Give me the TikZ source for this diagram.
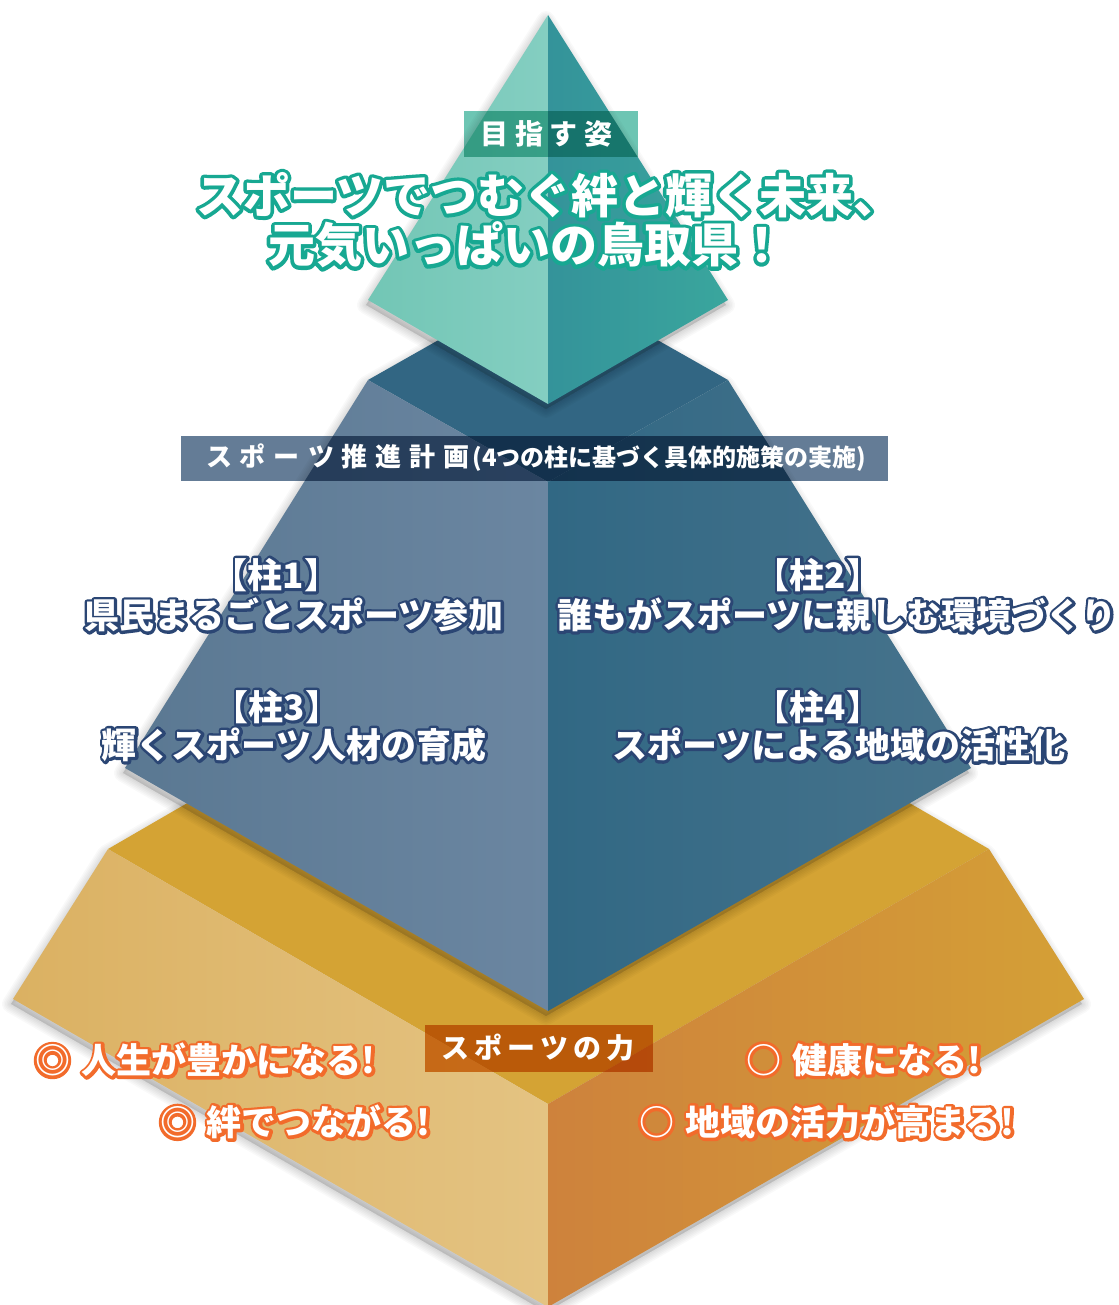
\documentclass[tikz,border=0pt]{standalone}
\usepackage{fontspec}
\newfontfamily\jp{Noto Sans CJK JP}
\usetikzlibrary{calc}
\definecolor{tealL1}{HTML}{72C6B5}
\definecolor{tealL2}{HTML}{84CEC1}
\definecolor{tealR1}{HTML}{34939A}
\definecolor{tealR2}{HTML}{3AA69D}
\definecolor{blueTop}{HTML}{326683}
\definecolor{blueL1}{HTML}{5A7892}
\definecolor{blueL2}{HTML}{6B86A1}
\definecolor{blueR1}{HTML}{316884}
\definecolor{blueR2}{HTML}{47738C}
\definecolor{goldTop}{HTML}{D4A334}
\definecolor{goldL1}{HTML}{DBB162}
\definecolor{goldL2}{HTML}{E4C382}
\definecolor{goldR1}{HTML}{CE823C}
\definecolor{goldR2}{HTML}{D4A036}
\definecolor{barA}{HTML}{6DC5B3}
\definecolor{barB}{HTML}{647C96}
\definecolor{barC}{HTML}{E08D31}
\definecolor{tealOut}{HTML}{17A892}
\definecolor{navyOut}{HTML}{2B4674}
\definecolor{orangeOut}{HTML}{F26B2B}
% outlined text: a stroked copy (text render mode 1) under the filled text
\newcommand\outl[3]{%
  \leavevmode\rlap{\color{#1}\special{pdf:literal direct 1 Tr #2 w 1 j 1 J}#3\special{pdf:literal direct 0 Tr}}#3}
\newcommand\softshadow[1]{%
  \foreach \sw in {3,6,9,12,15,18}{%
    \filldraw[black,opacity=0.024,line width=\sw*0.75pt,line join=round,shift={(-2,5)}] #1;}}
\begin{document}
\begin{tikzpicture}[x=0.75pt,y=-0.75pt,
  every node/.style={inner sep=0pt,outer sep=0pt},
  title/.style={anchor=west,text=white,font=\jp\bfseries\fontsize{35.25}{40}\selectfont},
  pillar/.style={text=white,font=\jp\bfseries\fontsize{26.25}{30}\selectfont},
  power/.style={anchor=west,text=white,font=\jp\bfseries\fontsize{26.25}{30}\selectfont},
  bartext/.style={text=white,font=\jp\bfseries\fontsize{21}{24}\selectfont}]
\fill[white] (0,0) rectangle (1118,1305);
\useasboundingbox (0,0) rectangle (1118,1305);
% ---- gold layer
\softshadow{(13,999) -- (108,849) -- (548,594) -- (989,849) -- (1084,999) -- (548,1307) -- cycle}
\fill[goldTop] (108,849) -- (548,594) -- (989,849) -- (548,1104) -- cycle;
\shade[left color=goldL1,right color=goldL2] (108,849) -- (548,1104) -- (548,1307) -- (13,999) -- cycle;
\shade[left color=goldR1,right color=goldR2] (548,1104) -- (989,849) -- (1084,999) -- (548,1307) -- cycle;
% ---- blue layer
\softshadow{(125,768) -- (368,380) -- (548,278) -- (728,380) -- (971,768) -- (548,1011) -- cycle}
\fill[blueTop] (368,380) -- (548,278) -- (728,380) -- (548,482) -- cycle;
\shade[left color=blueL1,right color=blueL2] (368,380) -- (548,482) -- (548,1011) -- (125,768) -- cycle;
\shade[left color=blueR1,right color=blueR2] (548,482) -- (728,380) -- (971,768) -- (548,1011) -- cycle;
% ---- teal layer
\softshadow{(368,300) -- (548,15) -- (728,300) -- (548,404) -- cycle}
\shade[left color=tealL1,right color=tealL2] (548,15) -- (368,300) -- (548,404) -- cycle;
\shade[left color=tealR1,right color=tealR2] (548,15) -- (548,404) -- (728,300) -- cycle;
% ---- bars
\begin{scope}[blend mode=multiply]
\node[fill=barA,minimum width=130.5pt,minimum height=34.5pt] (barGoal) at (551,134) {};
\node[fill=barB,minimum width=530.25pt,minimum height=33.75pt] (barPlan) at (534.5,458.5) {};
\node[fill=barC,minimum width=171pt,minimum height=35.25pt] (barPower) at (539,1048.5) {};
\end{scope}
\node[bartext] (goalLabel) at (546.5,134) {目\kern4.9pt 指\kern4.9pt す\kern4.9pt 姿};
\node[bartext,anchor=west,font=\jp\bfseries\fontsize{19.5}{22}\selectfont] (planLabel) at (206,458)
  {ス\kern6pt ポ\kern6pt ー\kern6pt ツ\kern6pt 推\kern6pt 進\kern6pt 計\kern6pt 画{\fontsize{18}{20}\selectfont\kern2pt (4つの柱に基づく具体的施策の実施)}};
\node[bartext] (powerLabel) at (538,1048) {ス\kern3.75pt ポ\kern3.75pt ー\kern3.75pt ツ\kern3.75pt の\kern3.75pt 力};
% ---- title
\node[title] (title1) at (196,195) {\outl{tealOut}{5.4}{スポーツでつむぐ絆と輝く未来、}};
\node[title] (title2) at (268,245) {\outl{tealOut}{5.4}{元気いっぱいの鳥取県！}};
% ---- pillars
\node[pillar] (p1h) at (276,575) {\outl{navyOut}{4.2}{【柱1】}};
\node[pillar] (p1t) at (294,615) {\outl{navyOut}{4.2}{県民まるごとスポーツ参加}};
\node[pillar] (p3h) at (277,707) {\outl{navyOut}{4.2}{【柱3】}};
\node[pillar] (p3t) at (294,745) {\outl{navyOut}{4.2}{輝くスポーツ人材の育成}};
\node[pillar] (p2h) at (818,575) {\outl{navyOut}{4.2}{【柱2】}};
\node[pillar] (p2t) at (837,615) {\outl{navyOut}{4.2}{誰もがスポーツに親しむ環境づくり}};
\node[pillar] (p4h) at (818,707) {\outl{navyOut}{4.2}{【柱4】}};
\node[pillar] (p4t) at (839,745) {\outl{navyOut}{4.2}{スポーツによる地域の活性化}};
% ---- power of sport
\node[power] (e1) at (35,1060) {\outl{orangeOut}{4.4}{◎\kern9pt 人生が豊かになる!}};
\node[power] (e2) at (160,1122) {\outl{orangeOut}{4.4}{◎\kern9pt 絆でつながる!}};
\node[power] (e3) at (746,1060) {\outl{orangeOut}{4.4}{○\kern9pt 健康になる!}};
\node[power] (e4) at (639,1122) {\outl{orangeOut}{4.4}{○\kern9pt 地域の活力が高まる!}};
\end{tikzpicture}
\end{document}
